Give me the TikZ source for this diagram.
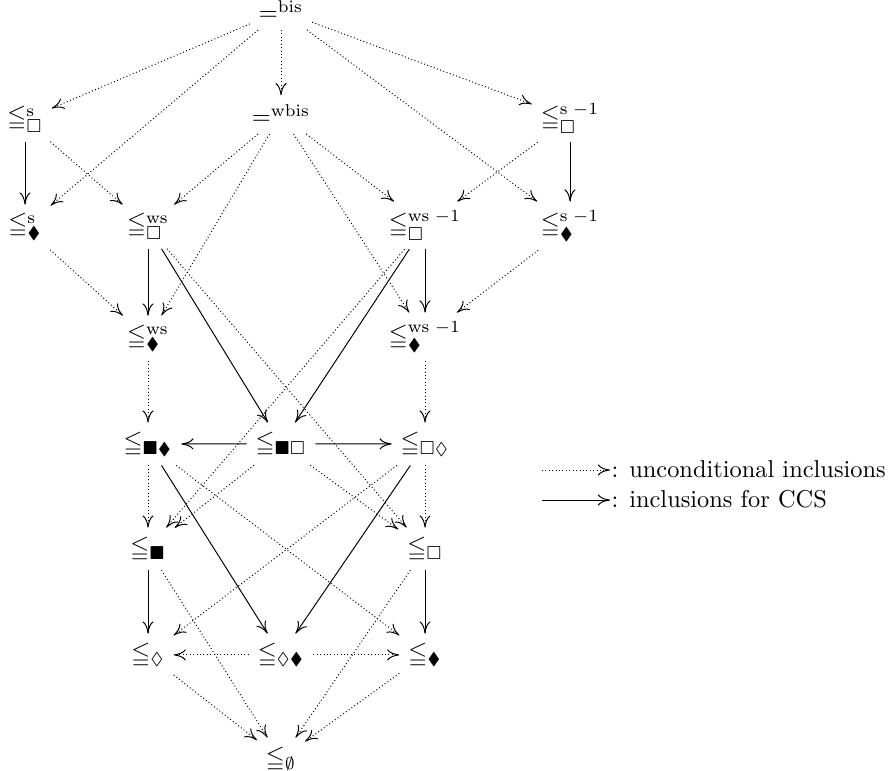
\documentclass[tikz,border=0pt]{standalone}
\usepackage{amssymb}
\usetikzlibrary{arrows.meta}
\tikzset{
  incl/.style={-{Computer Modern Rightarrow[length=5pt,width=4.6pt]},line width=0.4pt},
  arr/.style={incl},
  dotarr/.style={incl,densely dotted},
  rel/.style={inner sep=3.5pt,anchor=base},
}

\begin{document}
\begin{tikzpicture}[x=0.41pt,y=-0.41pt]
\useasboundingbox (0,0) rectangle (890,771);

% top
\node[rel] (bis) at (281,21) {$=^{\mathrm{bis}}$};
\node[rel] (sB) at (25,125) {$\leqq^{\mathrm{s}}_{\Box}$};
\node[rel] (wbis) at (281,125) {$=^{\mathrm{wbis}}$};
\node[rel] (sBi) at (570,125) {$\leqq^{\mathrm{s}\;{-1}}_{\Box}$};
\node[rel] (sD) at (25,232) {$\leqq^{\mathrm{s}}_{\blacklozenge}$};
\node[rel] (wsB) at (148,232) {$\leqq^{\mathrm{ws}}_{\Box}$};
\node[rel] (wsBi) at (425,232) {$\leqq^{\mathrm{ws}\;{-1}}_{\Box}$};
\node[rel] (sDi) at (570,232) {$\leqq^{\mathrm{s}\;{-1}}_{\blacklozenge}$};
\node[rel] (wsD) at (148,343) {$\leqq^{\mathrm{ws}}_{\blacklozenge}$};
\node[rel] (wsDi) at (425,343) {$\leqq^{\mathrm{ws}\;{-1}}_{\blacklozenge}$};

% modal part
\node[rel] (FD) at (148,450) {$\leqq_{\blacksquare\blacklozenge}$};
\node[rel] (FB) at (281,450) {$\leqq_{\blacksquare\Box}$};
\node[rel] (BL) at (425,450) {$\leqq_{\Box\lozenge}$};
\node[rel] (F) at (148,555) {$\leqq_{\blacksquare}$};
\node[rel] (B) at (425,555) {$\leqq_{\Box}$};
\node[rel] (L) at (148,661) {$\leqq_{\lozenge}$};
\node[rel] (LD) at (281,661) {$\leqq_{\lozenge\blacklozenge}$};
\node[rel] (D) at (425,661) {$\leqq_{\blacklozenge}$};
\node[rel] (E) at (281,765) {$\leqq_{\emptyset}$};

% unconditional inclusions
\draw[dotarr] (bis) edge (sB) edge (sD) edge (wbis) edge (sBi) edge (sDi);
\draw[dotarr] (wbis) edge (wsB) edge (wsBi) edge (wsD) edge (wsDi);
\draw[dotarr] (sB) -- (wsB);
\draw[dotarr] (sBi) -- (wsBi);
\draw[dotarr] (sD) -- (wsD);
\draw[dotarr] (sDi) -- (wsDi);
\draw[dotarr] (wsB) -- (B);
\draw[dotarr] (wsBi) -- (F);
\draw[dotarr] (wsD) -- (FD);
\draw[dotarr] (wsDi) -- (BL);
\draw[dotarr] (FD) edge (F) edge (D);
\draw[dotarr] (FB) edge (F) edge (B);
\draw[dotarr] (BL) edge (B) edge (L);
\draw[dotarr] (LD) edge (L) edge (D);
\draw[dotarr] (F) edge (E);
\draw[dotarr] (B) edge (E);
\draw[dotarr] (L) edge (E);
\draw[dotarr] (D) edge (E);

% inclusions for CCS
\draw[arr] (sB) -- (sD);
\draw[arr] (sBi) -- (sDi);
\draw[arr] (wsB) edge (wsD) edge (FB);
\draw[arr] (wsBi) edge (wsDi) edge (FB);
\draw[arr] (FB) edge (FD) edge (BL);
\draw[arr] (FD) -- (LD);
\draw[arr] (BL) -- (LD);
\draw[arr] (F) -- (L);
\draw[arr] (B) -- (D);

% legend
\coordinate (k1) at (542,470);
\node[anchor=base west,inner sep=0.5pt] (t1) at (610,477) {: unconditional inclusions};
\draw[dotarr] (k1) -- (k1 -| t1.west);
\coordinate (k2) at (542,500);
\node[anchor=base west,inner sep=0.5pt] (t2) at (610,507) {: inclusions for CCS};
\draw[arr] (k2) -- (k2 -| t2.west);
\end{tikzpicture}
\end{document}
